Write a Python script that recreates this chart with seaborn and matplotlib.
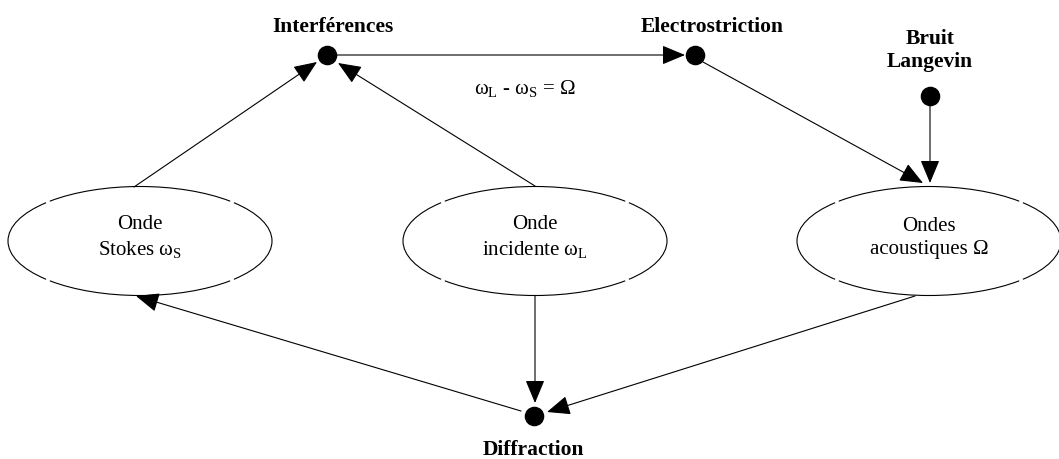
import numpy as np
import pandas as pd
import matplotlib.pyplot as plt
from matplotlib.patches import Arc
import seaborn as sns

# noeuds (points noirs) : nom, x, y en pixels
points = ['Interférences', 'Electrostriction', 'Bruit Langevin', 'Diffraction']
px = [327, 695, 930, 534]
py = [55, 55, 96, 416]
point_labels = ['Interférences', 'Electrostriction', 'Bruit\nLangevin', 'Diffraction']
label_x = [333, 712, 930, 533]
label_y = [32, 32, 67, 455]

# ellipses (ondes)
ondes = ['Onde\nStokes ω$_\\mathrm{S}$', 'Onde\nincidente ω$_\\mathrm{L}$', 'Ondes\nacoustiques Ω']
ex = [140, 535, 929]
ey = [241, 241, 241]
e_w, e_h = 264, 109

# fleches : depart -> arrivee
arrow_from = [(337, 55), (134, 187), (535, 186), (703, 62), (930, 105),
              (535, 296), (915, 296), (521, 411)]
arrow_to = [(685, 55), (317, 62), (338, 63), (923, 183), (930, 183),
            (535, 403), (547, 412), (136, 296)]

relation = 'ω$_\\mathrm{L}$ - ω$_\\mathrm{S}$ = Ω'

sns.set_theme(style='white')
plt.rcParams['font.family'] = ['Liberation Serif', 'DejaVu Serif']
plt.rcParams['mathtext.fontset'] = 'custom'
plt.rcParams['mathtext.rm'] = 'Liberation Serif'
plt.rcParams['text.color'] = 'black'

fig = plt.figure(figsize=(10.59, 4.59), dpi=100)
ax = fig.add_axes([0, 0, 1, 1])
ax.set_xlim(0, 1059)
ax.set_ylim(459, 0)
ax.axis('off')

# ellipses avec petites coupures
for cx, cy in zip(ex, ey):
    gaps = [23, 157, 203, 337]
    starts = [gaps[-1] - 360] + gaps[:-1]
    for a, b in zip(starts, gaps):
        ax.add_patch(Arc((cx, cy), e_w, e_h, theta1=a + 0.8, theta2=b - 0.8,
                         color='black', lw=0.8))

for (x0, y0), (x1, y1) in zip(arrow_from, arrow_to):
    ax.annotate('', xy=(x1, y1), xytext=(x0, y0),
                arrowprops=dict(arrowstyle='-|>,head_length=0.72,head_width=0.3',
                                color='black', lw=0.8, mutation_scale=20,
                                shrinkA=0, shrinkB=0))

df = pd.DataFrame({'nom': points, 'x': px, 'y': py})
sns.scatterplot(data=df, x='x', y='y', s=170, color='black', edgecolor='black',
                ax=ax, zorder=5, legend=False)
ax.set_xlabel('')
ax.set_ylabel('')

for lab, x, y in zip(point_labels, label_x, label_y):
    ax.text(x, y, lab, ha='center', va='baseline', fontsize=15.5,
            fontweight='bold', linespacing=1.2, color='black')

for lab, x, y in zip(ondes, ex, ey):
    ax.text(x, y - 3, lab, ha='center', va='center', fontsize=15,
            linespacing=1.35, color='black')

ax.text(525, 94, relation, ha='center', va='baseline', fontsize=15, color='black')

fig.savefig('out.png', dpi=100)
